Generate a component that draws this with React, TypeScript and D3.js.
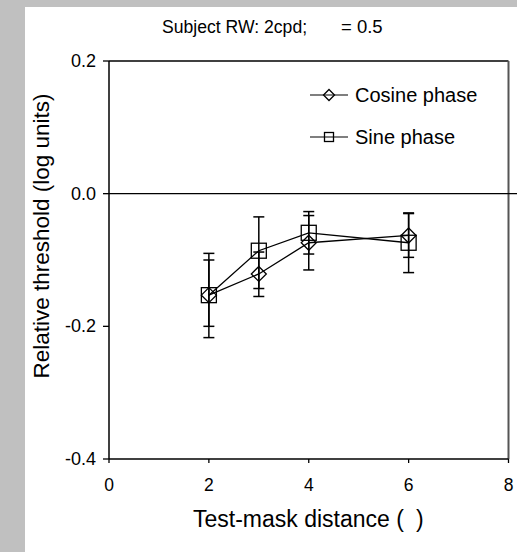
import React from "react";
import * as d3 from "d3";

const distances = [2, 3, 4, 6];
const cosineValues = [-0.153, -0.121, -0.074, -0.063];
const cosineLower = [-0.217, -0.155, -0.115, -0.096];
const cosineUpper = [-0.09, -0.088, -0.033, -0.03];
const sineValues = [-0.153, -0.086, -0.059, -0.074];
const sineLower = [-0.2, -0.143, -0.091, -0.119];
const sineUpper = [-0.1, -0.035, -0.027, -0.029];
const xTicks = [0, 2, 4, 6, 8];
const yTicks = [0.2, 0.0, -0.2, -0.4];
const seriesNames = ["Cosine phase", "Sine phase"];

const W = 517;
const H = 552;
const FONT = "'Liberation Sans', Arial, Helvetica, sans-serif";

export default function App() {
  const x = d3.scaleLinear().domain([0, 8]).range([109, 508.5]);
  const y = d3.scaleLinear().domain([-0.4, 0.2]).range([459, 61]);
  const line = d3
    .line<[number, number]>()
    .x((d) => x(d[0]))
    .y((d) => y(d[1]));

  const series = [
    { name: seriesNames[0], vals: cosineValues, lo: cosineLower, hi: cosineUpper, shape: "diamond" },
    { name: seriesNames[1], vals: sineValues, lo: sineLower, hi: sineUpper, shape: "square" },
  ];

  const marker = (shape: string, cx: number, cy: number, r: number, key: string) =>
    shape === "diamond" ? (
      <path
        key={key}
        d={`M${cx},${cy - r}L${cx + r},${cy}L${cx},${cy + r}L${cx - r},${cy}Z`}
        fill="none"
        stroke="#000"
        strokeWidth={1.3}
      />
    ) : (
      <rect key={key} x={cx - r} y={cy - r} width={2 * r} height={2 * r} fill="none" stroke="#000" strokeWidth={1.3} />
    );

  return (
    <div style={{ position: "fixed", left: 0, top: 0 }}>
      <svg width={W} height={H} style={{ display: "block", fontFamily: FONT }}>
        <rect x={0} y={0} width={W} height={H} fill="#c0c0c0" />
        <rect x={25} y={7} width={W - 25} height={H - 7} fill="#fff" />

        {/* title */}
        <text x={162} y={33} fontSize={17.6} fill="#000">Subject RW: 2cpd;</text>
        <text x={341} y={33} fontSize={18.5} fill="#000">= 0.5</text>

        {/* frame */}
        <line x1={x(0)} x2={x(8)} y1={y(0.2)} y2={y(0.2)} stroke="#000" strokeWidth={1.3} />
        <line x1={x(8)} x2={x(8)} y1={y(0.2)} y2={y(-0.4)} stroke="#555" strokeWidth={2} />
        <line x1={x(0)} x2={x(0)} y1={y(0.2)} y2={y(-0.4)} stroke="#000" strokeWidth={1.5} />
        <line x1={x(0)} x2={x(8)} y1={y(-0.4)} y2={y(-0.4)} stroke="#000" strokeWidth={1.5} />
        <line x1={x(0)} x2={W} y1={y(0)} y2={y(0)} stroke="#000" strokeWidth={1.3} />

        {/* y ticks */}
        {yTicks.map((t) => (
          <g key={"y" + t}>
            <line x1={x(0) - 6} x2={x(0)} y1={y(t)} y2={y(t)} stroke="#000" strokeWidth={1.3} />
            <text x={96} y={y(t) + 6} fontSize={18} textAnchor="end" fill="#000">
              {d3.format(".1f")(t).replace("−", "-")}
            </text>
          </g>
        ))}

        {/* x ticks */}
        {xTicks.map((t) => (
          <g key={"x" + t}>
            <line x1={x(t)} x2={x(t)} y1={y(-0.4)} y2={y(-0.4) + 4} stroke="#000" strokeWidth={1.3} />
            <text x={x(t)} y={491} fontSize={17.5} textAnchor="middle" fill="#000">
              {t}
            </text>
          </g>
        ))}

        {/* axis labels */}
        <text x={193} y={527} fontSize={23} fill="#000">Test-mask distance (</text>
        <text x={416} y={527} fontSize={23} fill="#000">)</text>
        <text
          transform={`translate(49,236) rotate(-90)`}
          fontSize={22.5}
          textAnchor="middle"
          fill="#000"
        >
          Relative threshold (log units)
        </text>

        {/* series */}
        {series.map((s, si) => (
          <g key={s.name}>
            <path
              d={line(distances.map((d, i) => [d, s.vals[i]] as [number, number])) || ""}
              fill="none"
              stroke="#000"
              strokeWidth={1.3}
            />
            {distances.map((d, i) => (
              <g key={i}>
                <line x1={x(d)} x2={x(d)} y1={y(s.lo[i])} y2={y(s.hi[i])} stroke="#000" strokeWidth={1.5} />
                <line x1={x(d) - 5.5} x2={x(d) + 5.5} y1={y(s.lo[i])} y2={y(s.lo[i])} stroke="#000" strokeWidth={1.5} />
                <line x1={x(d) - 5.5} x2={x(d) + 5.5} y1={y(s.hi[i])} y2={y(s.hi[i])} stroke="#000" strokeWidth={1.5} />
                {marker(s.shape, x(d), y(s.vals[i]), 7.5, "m" + si + i)}
              </g>
            ))}
          </g>
        ))}

        {/* legend */}
        {series.map((s, si) => {
          const ly = 95 + si * 42;
          return (
            <g key={"lg" + si}>
              <line x1={310} x2={348} y1={ly} y2={ly} stroke="#000" strokeWidth={1.2} />
              {marker(s.shape, 329, ly, s.shape === "diamond" ? 5.5 : 4.5, "lm" + si)}
              <text x={355} y={ly + 7} fontSize={20} fill="#000">
                {s.name}
              </text>
            </g>
          );
        })}
      </svg>
    </div>
  );
}
